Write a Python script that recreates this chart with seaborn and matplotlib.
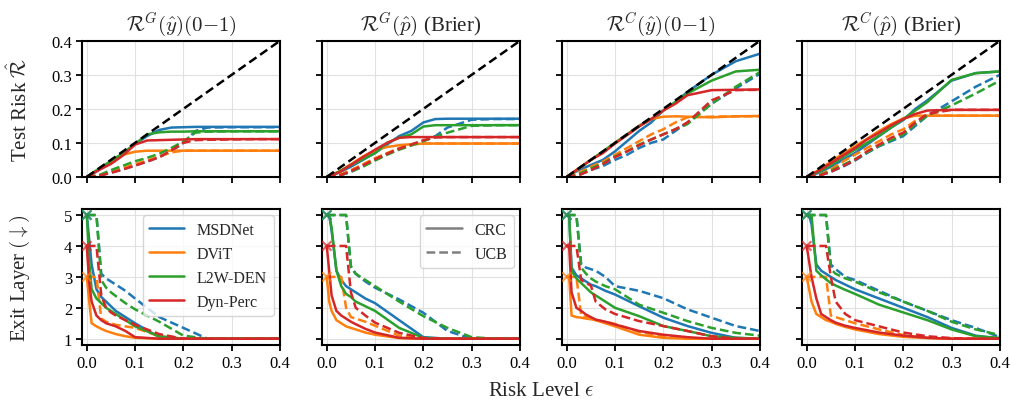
import pandas as pd
import matplotlib
matplotlib.use("agg")
import matplotlib.pyplot as plt
from matplotlib.lines import Line2D
import seaborn as sns

models = ["MSDNet", "DViT", "L2W-DEN", "Dyn-Perc"]
colors = ["#1f77b4", "#ff7f0e", "#2ca02c", "#d62728"]
methods = ["CRC", "UCB"]
titles = [r"$\mathcal{R}^G(\hat{y})(0{-}1)$", r"$\mathcal{R}^G(\hat{p})$ (Brier)",
          r"$\mathcal{R}^C(\hat{y})(0{-}1)$", r"$\mathcal{R}^C(\hat{p})$ (Brier)"]

eps_top = [0, 0.025, 0.05, 0.075, 0.1, 0.125, 0.15, 0.175, 0.2, 0.225, 0.25, 0.3, 0.35, 0.4]
eps_bot = [0, 0.005, 0.01, 0.02, 0.03, 0.04, 0.05, 0.06, 0.08, 0.1, 0.15, 0.2, 0.25, 0.3, 0.35, 0.4]

# test risk, rows = models (MSDNet, DViT, L2W-DEN, Dyn-Perc)
risk_gy_crc = [[0, 0.02, 0.043, 0.068, 0.097, 0.12, 0.138, 0.145, 0.146, 0.147, 0.147, 0.147, 0.147, 0.147],
               [0, 0.022, 0.045, 0.065, 0.074, 0.077, 0.077, 0.077, 0.077, 0.077, 0.077, 0.077, 0.077, 0.077],
               [0, 0.024, 0.047, 0.07, 0.097, 0.125, 0.131, 0.133, 0.133, 0.134, 0.134, 0.134, 0.134, 0.134],
               [0, 0.02, 0.038, 0.063, 0.095, 0.107, 0.108, 0.109, 0.11, 0.111, 0.111, 0.111, 0.111, 0.111]]
risk_gy_ucb = [[0, 0.003, 0.012, 0.022, 0.034, 0.045, 0.058, 0.075, 0.1, 0.135, 0.145, 0.146, 0.146, 0.146],
               [0, 0.004, 0.015, 0.026, 0.038, 0.048, 0.06, 0.072, 0.077, 0.077, 0.077, 0.077, 0.077, 0.077],
               [0, 0.005, 0.02, 0.033, 0.046, 0.056, 0.068, 0.085, 0.104, 0.13, 0.133, 0.134, 0.134, 0.134],
               [0, 0.003, 0.012, 0.022, 0.033, 0.045, 0.058, 0.078, 0.1, 0.108, 0.109, 0.11, 0.111, 0.111]]

risk_gp_crc = [[0, 0.012, 0.03, 0.05, 0.07, 0.095, 0.12, 0.135, 0.16, 0.17, 0.171, 0.171, 0.171, 0.171],
               [0, 0.015, 0.037, 0.06, 0.078, 0.088, 0.093, 0.096, 0.098, 0.098, 0.098, 0.098, 0.098, 0.098],
               [0, 0.015, 0.035, 0.052, 0.07, 0.1, 0.115, 0.125, 0.148, 0.152, 0.152, 0.152, 0.152, 0.152],
               [0, 0.013, 0.035, 0.058, 0.08, 0.1, 0.115, 0.117, 0.117, 0.117, 0.117, 0.117, 0.117, 0.117]]
risk_gp_ucb = [[0, 0.003, 0.015, 0.032, 0.05, 0.068, 0.082, 0.095, 0.105, 0.12, 0.145, 0.168, 0.17, 0.17],
               [0, 0.005, 0.02, 0.037, 0.055, 0.07, 0.085, 0.095, 0.098, 0.098, 0.098, 0.098, 0.098, 0.098],
               [0, 0.003, 0.015, 0.03, 0.048, 0.065, 0.08, 0.092, 0.105, 0.118, 0.13, 0.15, 0.152, 0.152],
               [0, 0.003, 0.017, 0.034, 0.052, 0.068, 0.083, 0.095, 0.108, 0.116, 0.117, 0.117, 0.117, 0.117]]

risk_cy_crc = [[0, 0.02, 0.035, 0.05, 0.075, 0.105, 0.135, 0.16, 0.195, 0.22, 0.25, 0.3, 0.34, 0.362],
               [0, 0.024, 0.05, 0.073, 0.1, 0.125, 0.15, 0.17, 0.177, 0.178, 0.177, 0.175, 0.178, 0.179],
               [0, 0.025, 0.05, 0.075, 0.1, 0.125, 0.15, 0.17, 0.195, 0.22, 0.245, 0.283, 0.31, 0.315],
               [0, 0.025, 0.05, 0.07, 0.098, 0.123, 0.148, 0.17, 0.195, 0.215, 0.24, 0.255, 0.256, 0.257]]
risk_cy_ucb = [[0, 0.005, 0.02, 0.032, 0.05, 0.065, 0.085, 0.1, 0.11, 0.135, 0.16, 0.215, 0.26, 0.303],
               [0, 0.012, 0.03, 0.045, 0.065, 0.085, 0.105, 0.125, 0.14, 0.16, 0.175, 0.177, 0.178, 0.178],
               [0, 0.008, 0.025, 0.04, 0.06, 0.075, 0.095, 0.11, 0.125, 0.14, 0.155, 0.215, 0.265, 0.308],
               [0, 0.005, 0.02, 0.038, 0.058, 0.075, 0.093, 0.11, 0.125, 0.14, 0.16, 0.225, 0.255, 0.256]]

risk_cp_crc = [[0, 0.012, 0.03, 0.05, 0.07, 0.095, 0.12, 0.145, 0.167, 0.2, 0.225, 0.283, 0.305, 0.31],
               [0, 0.02, 0.045, 0.068, 0.09, 0.112, 0.135, 0.155, 0.172, 0.18, 0.18, 0.18, 0.18, 0.18],
               [0, 0.015, 0.035, 0.058, 0.08, 0.1, 0.122, 0.145, 0.17, 0.195, 0.22, 0.285, 0.305, 0.31],
               [0, 0.018, 0.04, 0.063, 0.085, 0.11, 0.13, 0.152, 0.17, 0.185, 0.195, 0.197, 0.197, 0.197]]
risk_cp_ucb = [[0, 0.003, 0.015, 0.03, 0.048, 0.07, 0.09, 0.105, 0.12, 0.15, 0.18, 0.222, 0.265, 0.3],
               [0, 0.005, 0.022, 0.045, 0.065, 0.085, 0.105, 0.125, 0.14, 0.165, 0.18, 0.18, 0.18, 0.18],
               [0, 0.004, 0.018, 0.035, 0.052, 0.072, 0.092, 0.108, 0.125, 0.155, 0.18, 0.21, 0.245, 0.283],
               [0, 0.003, 0.015, 0.032, 0.05, 0.075, 0.095, 0.115, 0.13, 0.16, 0.185, 0.197, 0.197, 0.197]]

# exit layer, rows = models
exit_gy_crc = [[5, 4.2, 3.4, 2.6, 2.35, 2.2, 2.05, 1.9, 1.7, 1.5, 1.05, 1, 1, 1, 1, 1],
               [3, 2.2, 1.5, 1.4, 1.32, 1.25, 1.2, 1.15, 1.08, 1.03, 1, 1, 1, 1, 1, 1],
               [5, 3.5, 2.6, 2.3, 2.15, 2.0, 1.9, 1.8, 1.6, 1.4, 1.08, 1, 1, 1, 1, 1],
               [4, 2.8, 2.2, 1.75, 1.6, 1.5, 1.45, 1.4, 1.25, 1.05, 1, 1, 1, 1, 1, 1]]
exit_gy_ucb = [[5, 5, 5, 5, 3.1, 2.95, 2.85, 2.75, 2.55, 2.3, 1.7, 1.35, 1, 1, 1, 1],
               [3, 3, 3, 3, 1.65, 1.55, 1.5, 1.45, 1.4, 1.35, 1.08, 1, 1, 1, 1, 1],
               [5, 5, 5, 5, 2.9, 2.65, 2.5, 2.38, 2.15, 1.95, 1.55, 1.1, 1, 1, 1, 1],
               [4, 4, 4, 4, 2.4, 2.0, 1.85, 1.75, 1.6, 1.45, 1.15, 1, 1, 1, 1, 1]]

exit_gp_crc = [[5, 5, 4.5, 3.2, 2.9, 2.7, 2.6, 2.5, 2.3, 2.15, 1.6, 1.05, 1, 1, 1, 1],
               [3, 2.2, 1.9, 1.6, 1.5, 1.4, 1.35, 1.3, 1.2, 1.13, 1.02, 1, 1, 1, 1, 1],
               [5, 5, 4.6, 3.2, 2.7, 2.45, 2.35, 2.2, 2.05, 1.9, 1.35, 1.03, 1, 1, 1, 1],
               [4, 3.2, 2.4, 1.9, 1.75, 1.65, 1.55, 1.47, 1.32, 1.2, 1.03, 1, 1, 1, 1, 1]]
exit_gp_ucb = [[5, 5, 5, 5, 5, 5, 3.3, 3.1, 2.85, 2.65, 2.27, 1.84, 1.25, 1.0, 1, 1],
               [3, 3, 3, 3, 3, 2.0, 1.7, 1.65, 1.55, 1.42, 1.1, 1.0, 1, 1, 1, 1],
               [5, 5, 5, 5, 5, 5, 3.35, 3.1, 2.9, 2.7, 2.2, 1.73, 1.35, 1.05, 1, 1],
               [4, 4, 4, 4, 4, 4, 2.5, 2.0, 1.75, 1.52, 1.19, 1.02, 1, 1, 1, 1]]

exit_cy_crc = [[5, 5, 3.3, 3.05, 2.95, 2.85, 2.75, 2.7, 2.55, 2.43, 2.05, 1.68, 1.41, 1.19, 1.03, 1.0],
               [3, 3, 1.75, 1.7, 1.68, 1.65, 1.63, 1.6, 1.5, 1.4, 1.13, 1.03, 1, 1, 1, 1],
               [5, 5, 3.2, 2.95, 2.8, 2.65, 2.5, 2.4, 2.2, 2.0, 1.73, 1.41, 1.25, 1.08, 1.03, 1.0],
               [4, 4, 2.5, 2.0, 1.9, 1.78, 1.7, 1.62, 1.55, 1.46, 1.25, 1.13, 1.05, 1, 1, 1]]
exit_cy_ucb = [[5, 5, 5, 5, 3.4, 3.3, 3.25, 3.2, 3.0, 2.7, 2.55, 2.31, 1.95, 1.68, 1.41, 1.25],
               [3, 3, 3, 3, 1.75, 1.7, 1.65, 1.6, 1.55, 1.48, 1.22, 1.08, 1, 1, 1, 1],
               [5, 5, 5, 5, 3.3, 3.1, 2.95, 2.85, 2.7, 2.6, 2.1, 1.84, 1.57, 1.35, 1.19, 1.1],
               [4, 4, 4, 4, 2.9, 2.8, 2.72, 2.2, 1.95, 1.8, 1.57, 1.41, 1.25, 1.08, 1, 1]]

exit_cp_crc = [[5, 5, 4.7, 3.4, 3.2, 3.1, 3.0, 2.9, 2.75, 2.6, 2.3, 2.0, 1.7, 1.35, 1.1, 1.0],
               [3, 2.6, 2.2, 1.8, 1.7, 1.6, 1.55, 1.48, 1.38, 1.3, 1.15, 1.06, 1.02, 1, 1, 1],
               [5, 5, 5, 3.2, 3.05, 2.92, 2.8, 2.72, 2.58, 2.45, 2.1, 1.85, 1.6, 1.3, 1.08, 1.03],
               [4, 3.5, 3.0, 2.3, 1.8, 1.7, 1.6, 1.52, 1.42, 1.35, 1.2, 1.1, 1.03, 1, 1, 1]]
exit_cp_ucb = [[5, 5, 5, 5, 5, 5, 3.4, 3.25, 3.0, 2.9, 2.55, 2.2, 1.9, 1.6, 1.35, 1.05],
               [3, 3, 3, 3, 3, 3, 1.75, 1.7, 1.6, 1.5, 1.3, 1.12, 1.03, 1, 1, 1],
               [5, 5, 5, 5, 5, 5, 3.25, 3.1, 2.95, 2.85, 2.5, 2.2, 1.9, 1.55, 1.3, 1.12],
               [4, 4, 4, 4, 4, 4, 3.0, 2.2, 1.8, 1.6, 1.4, 1.2, 1.08, 1.02, 1, 1]]


def to_long(eps, crc, ucb):
    rows = []
    for method, curves in zip(methods, [crc, ucb]):
        for m, vals in zip(models, curves):
            for e, v in zip(eps, vals):
                rows.append((m, method, e, v))
    return pd.DataFrame(rows, columns=["model", "method", "eps", "value"])


top_data = [to_long(eps_top, risk_gy_crc, risk_gy_ucb), to_long(eps_top, risk_gp_crc, risk_gp_ucb),
            to_long(eps_top, risk_cy_crc, risk_cy_ucb), to_long(eps_top, risk_cp_crc, risk_cp_ucb)]
bot_data = [to_long(eps_bot, exit_gy_crc, exit_gy_ucb), to_long(eps_bot, exit_gp_crc, exit_gp_ucb),
            to_long(eps_bot, exit_cy_crc, exit_cy_ucb), to_long(eps_bot, exit_cp_crc, exit_cp_ucb)]

sns.set_style("whitegrid", {"axes.edgecolor": "black", "grid.color": "#e0e0e0",
                            "xtick.bottom": True, "ytick.left": True})
plt.rcParams["font.family"] = ["Liberation Serif", "DejaVu Serif"]
plt.rcParams["mathtext.fontset"] = "cm"
plt.rcParams["axes.linewidth"] = 1.5
plt.rcParams["xtick.major.size"] = 4
plt.rcParams["ytick.major.size"] = 4
plt.rcParams["xtick.major.width"] = 1.3
plt.rcParams["ytick.major.width"] = 1.3
plt.rcParams["xtick.color"] = "black"
plt.rcParams["ytick.color"] = "black"

palette = dict(zip(models, colors))
dashes = {"CRC": "", "UCB": (3.5, 1.6)}

fig, axes = plt.subplots(2, 4, figsize=(10.12, 4.06), dpi=100)
fig.subplots_adjust(left=0.081, right=0.988, top=0.897, bottom=0.148, wspace=0.212, hspace=0.235)

for j in range(4):
    ax = axes[0, j]
    ax.axline((0, 0), slope=1, color="black", ls="--", lw=1.8, dashes=(3.5, 1.8), zorder=5)
    sns.lineplot(data=top_data[j], x="eps", y="value", hue="model", style="method",
                 palette=palette, dashes=dashes, lw=1.8, errorbar=None, legend=False, ax=ax)
    ax.set_xlim(-0.01, 0.4)
    ax.set_ylim(0, 0.4)
    ax.set_xticks([0, 0.1, 0.2, 0.3, 0.4])
    ax.set_yticks([0, 0.1, 0.2, 0.3, 0.4])
    ax.set_xticklabels([])
    ax.set_xlabel("")
    ax.set_ylabel("")
    ax.set_title(titles[j], fontsize=15, pad=8)

    ax = axes[1, j]
    sns.lineplot(data=bot_data[j], x="eps", y="value", hue="model", style="method",
                 palette=palette, dashes=dashes, lw=1.8, errorbar=None, legend=False, ax=ax)
    start = bot_data[j][bot_data[j]["eps"] == 0]
    ax.scatter(start["eps"], start["value"], marker="x", s=45, linewidths=1.5,
               c=[palette[m] for m in start["model"]], alpha=0.45, zorder=6)
    ax.set_xlim(-0.01, 0.4)
    ax.set_ylim(0.8, 5.2)
    ax.set_xticks([0, 0.1, 0.2, 0.3, 0.4])
    ax.set_xticklabels(["0.0", "0.1", "0.2", "0.3", "0.4"])
    ax.set_yticks([1, 2, 3, 4, 5])
    ax.set_xlabel("")
    ax.set_ylabel("")
    for row in range(2):
        axes[row, j].tick_params(labelsize=12, pad=3)
        if j > 0:
            axes[row, j].set_yticklabels([])

axes[0, 0].set_yticklabels(["0.0", "0.1", "0.2", "0.3", "0.4"])
axes[0, 0].set_ylabel(r"Test Risk $\hat{\mathcal{R}}$", fontsize=15)
axes[1, 0].set_ylabel(r"Exit Layer $(\downarrow)$", fontsize=15)
axes[0, 0].yaxis.set_label_coords(-0.25, 0.5)
axes[1, 0].yaxis.set_label_coords(-0.25, 0.5)

model_handles = [Line2D([], [], color=c, lw=1.8) for c in colors]
axes[1, 0].legend(model_handles, models, loc="upper right", fontsize=11.5,
                  handlelength=2.2, framealpha=0.8, edgecolor="#cccccc", borderaxespad=0.4)
method_handles = [Line2D([], [], color="grey", lw=1.8),
                  Line2D([], [], color="grey", lw=1.8, dashes=(3.5, 1.6))]
axes[1, 1].legend(method_handles, methods, loc="upper right", fontsize=11.5,
                  handlelength=2.2, framealpha=0.8, edgecolor="#cccccc", borderaxespad=0.4)

fig.text(0.535, 0.025, r"Risk Level $\epsilon$", ha="center", fontsize=15)

fig.savefig("out.png", dpi=100)
